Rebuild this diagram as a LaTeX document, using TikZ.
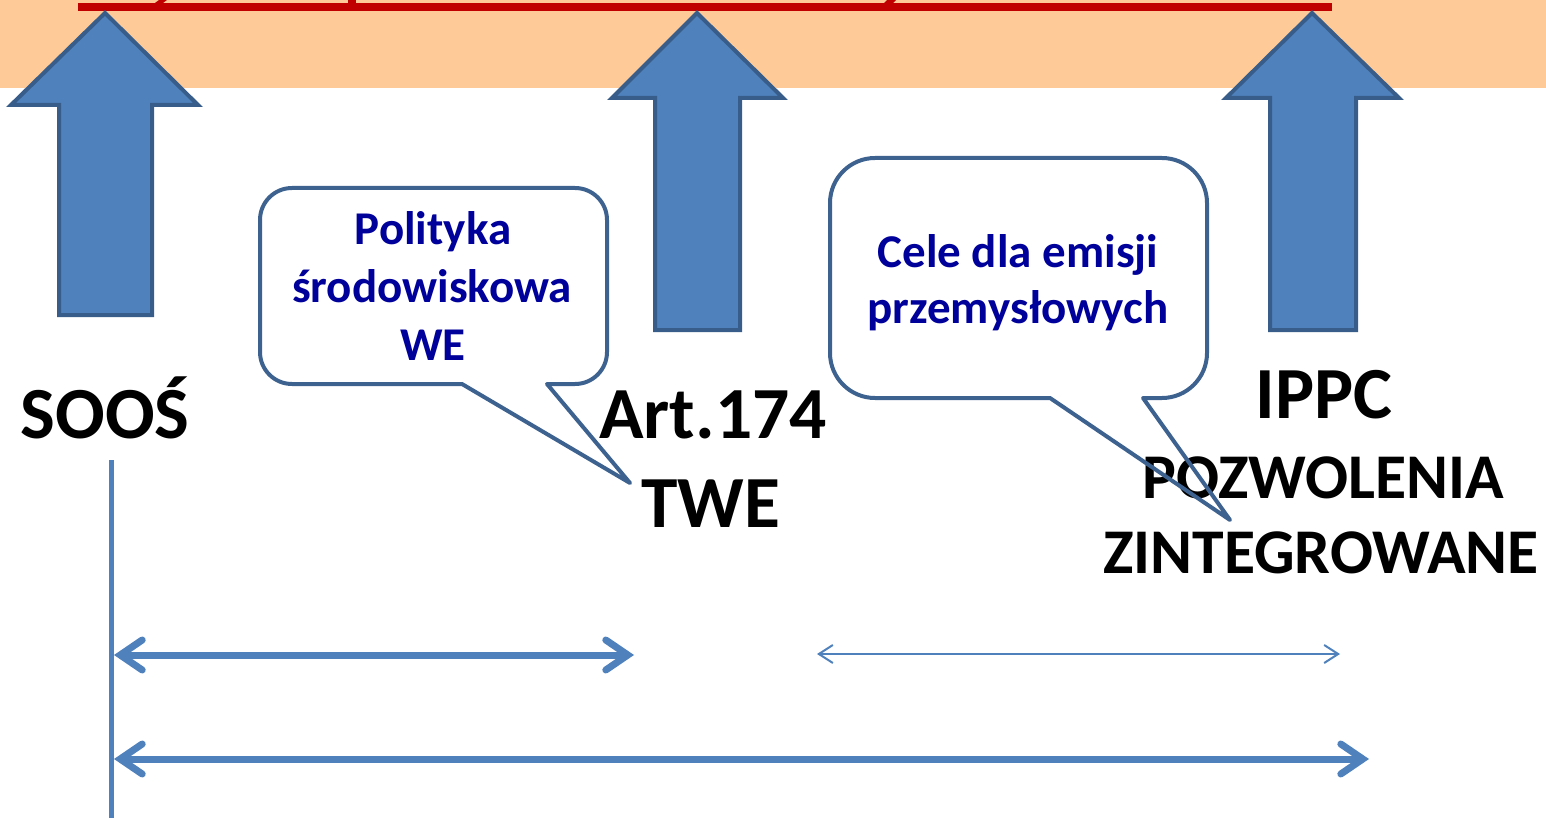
\documentclass[tikz,border=0pt]{standalone}
\usepackage{fontspec}
\setmainfont{Carlito}
\usetikzlibrary{arrows.meta}
\definecolor{bandc}{RGB}{254,203,152}
\definecolor{redc}{RGB}{192,0,0}
\definecolor{blockfill}{RGB}{79,129,189}
\definecolor{blockline}{RGB}{56,93,138}
\definecolor{bubbleline}{RGB}{61,98,144}
\definecolor{bluetext}{RGB}{0,0,154}
\tikzset{
  blockarrow/.style={fill=blockfill, draw=blockline, line width=4pt, line join=miter},
  bubble/.style={draw=bubbleline, line width=4pt, line join=round},
  biglabel/.style={inner sep=0pt, anchor=base, text=black, font=\bfseries\fontsize{73.5}{86}\selectfont},
  midlabel/.style={inner sep=0pt, anchor=base, text=black, font=\bfseries\fontsize{63.7}{76}\selectfont},
  bubbletext/.style={inner sep=0pt, anchor=base, text=bluetext, font=\bfseries\fontsize{47}{56}\selectfont},
  thickspan/.style={draw=blockfill, line width=7pt,
    {Straight Barb[length=22pt,width=30pt,line cap=round]}-{Straight Barb[length=22pt,width=30pt,line cap=round]}},
  thinspan/.style={draw=blockfill, line width=2pt,
    {Straight Barb[length=14pt,width=18pt]}-{Straight Barb[length=14pt,width=18pt]}}
}
\begin{document}
\begin{tikzpicture}[x=1pt,y=-1pt]
\useasboundingbox (0,0) rectangle (1546,818);
% band
\fill[bandc] (0,0) rectangle (1546,88);
% tiny fragments of the cut-off line above
\fill[redc] (155,3) -- (159,0) -- (167,0) -- (163,3) -- cycle;
\fill[redc] (348,0) rectangle (356,3);
\fill[redc] (884,3) -- (887,0) -- (896,0) -- (893,3) -- cycle;
% red line
\coordinate (rl) at (78,7);
\coordinate (rr) at (1332,7);
\draw[redc, line width=8pt] (rl) -- (rr);
% block arrows
\draw[blockarrow] (105,13) -- (198,105) -- (152,105) -- (152,315) -- (59,315) -- (59,105) -- (11,105) -- cycle;
\draw[blockarrow] (697,13) -- (783,98) -- (740,98) -- (740,330) -- (655,330) -- (655,98) -- (612,98) -- cycle;
\draw[blockarrow] (1312,13) -- (1399,98) -- (1356,98) -- (1356,330) -- (1270,330) -- (1270,98) -- (1226,98) -- cycle;
% labels
\node[biglabel] (soos) at (105,438) {SOOŚ};
\node[biglabel] (art) at (713,438) {Art.174};
\node[biglabel] (twe) at (711,527) {TWE};
\node[biglabel] (ippc) at (1324,418) {IPPC};
\node[midlabel] (poz) at (1323,498) {POZWOLENIA};
\node[midlabel] (zint) at (1321,573) {ZINTEGROWANE};
% bubble texts
\node[bubbletext] (b1a) at (433,245) {Polityka};
\node[bubbletext] (b1b) at (432,302) {środowiskowa};
\node[bubbletext] (b1c) at (433,360) {WE};
\node[bubbletext] (b2a) at (1018,267) {Cele dla emisji};
\node[bubbletext] (b2b) at (1018,323) {przemysłowych};
% bubbles
\draw[bubble] (292,188) -- (575,188) .. controls (592.7,188) and (607,202.3) .. (607,220) -- (607,352) .. controls (607,369.7) and (592.7,384) .. (575,384) -- (547,384) -- (630,483) -- (462,384) -- (292,384) .. controls (274.3,384) and (260,369.7) .. (260,352) -- (260,220) .. controls (260,202.3) and (274.3,188) .. (292,188) -- cycle;
\draw[bubble] (875,158) -- (1162,158) .. controls (1186.8,158) and (1207,178.2) .. (1207,203) -- (1207,353) .. controls (1207,377.8) and (1186.8,398) .. (1162,398) -- (1143,398) -- (1230,520) -- (1050,398) -- (875,398) .. controls (850.2,398) and (830,377.8) .. (830,353) -- (830,203) .. controls (830,178.2) and (850.2,158) .. (875,158) -- cycle;
% timeline
\coordinate (vt) at (111,460);
\coordinate (vb) at (111,818);
\draw[blockfill, line width=5pt] (vt) -- (vb);
\coordinate (a1l) at (114,655);
\coordinate (a1r) at (634,655);
\coordinate (a2l) at (817,654);
\coordinate (a2r) at (1340,654);
\coordinate (a3l) at (114,759);
\coordinate (a3r) at (1369,759);
\draw[thickspan] (a1l) -- (a1r);
\draw[thinspan] (a2l) -- (a2r);
\draw[thickspan] (a3l) -- (a3r);
\end{tikzpicture}
\end{document}
